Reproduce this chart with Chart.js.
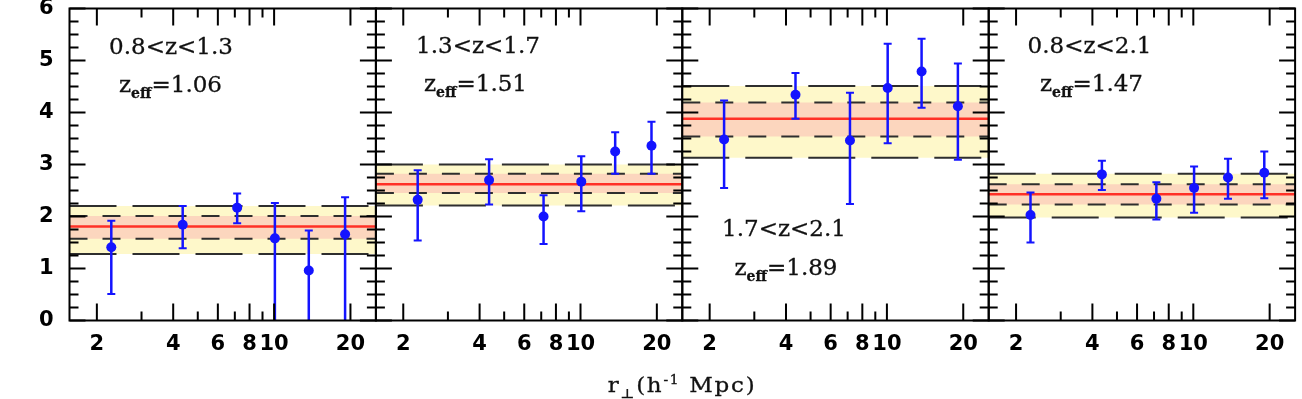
<!DOCTYPE html>
<html><head><meta charset="utf-8">
<script src="https://cdn.jsdelivr.net/npm/chart.js@4/dist/chart.umd.min.js"></script>
<style>
html,body{margin:0;padding:0;background:#fff;}
#wrap{position:relative;width:1302px;height:399px;overflow:hidden;background:#fff;}
canvas{position:absolute;left:0;top:0;}
.lab{position:absolute;font-family:"DejaVu Serif";font-size:23px;line-height:23px;color:#111;white-space:nowrap;transform:translate(-50%,-50%);z-index:5;-webkit-text-stroke:0.3px #111;}
.lab sub{font-size:14px;font-weight:bold;vertical-align:-6px;line-height:0;}
#xt{position:absolute;left:681.5px;top:385px;font-family:"DejaVu Serif";font-size:20px;line-height:20px;color:#111;white-space:nowrap;letter-spacing:1.5px;transform:translate(-50%,-50%) scaleX(1.15);z-index:5;-webkit-text-stroke:0.3px #111;}
#xt sub{font-size:13px;vertical-align:-6px;line-height:0;}
#xt sup{font-size:12px;vertical-align:8px;line-height:0;}
</style></head><body>
<div id="wrap">
<canvas id="c0" width="1302" height="399"></canvas>
<canvas id="c1" width="1302" height="399"></canvas>
<canvas id="c2" width="1302" height="399"></canvas>
<canvas id="c3" width="1302" height="399"></canvas>
<div class="lab" id="r0" style="left:171px;top:45.5px"></div>
<div class="lab" id="z0" style="left:170.5px;top:83.5px"></div>
<div class="lab" id="r1" style="left:478px;top:45px"></div>
<div class="lab" id="z1" style="left:475.5px;top:83px"></div>
<div class="lab" id="r2" style="left:784px;top:227.5px"></div>
<div class="lab" id="z2" style="left:786px;top:266.5px"></div>
<div class="lab" id="r3" style="left:1089.5px;top:45px"></div>
<div class="lab" id="z3" style="left:1091.5px;top:83px"></div>
<div id="xt">r<sub>⊥</sub>(h<sup>-1</sup> Mpc)</div>
</div>
<script>
// ---- axis ranges & ticks ----
const X_MIN = 1.56, X_MAX = 25.2;
const Y_MIN = 0, Y_MAX = 6;
const X_TICKS = [2, 3, 4, 5, 6, 7, 8, 9, 10, 20];
const X_LABELED = [2, 4, 6, 8, 10, 20];
const Y_TICKS = [0, 1, 2, 3, 4, 5, 6];
const Y_MINOR_STEP = 0.25;

// ---- categories / panel labels ----
const PANEL_RANGES = ['0.8<z<1.3', '1.3<z<1.7', '1.7<z<2.1', '0.8<z<2.1'];
const PANEL_ZEFF = ['1.06', '1.51', '1.89', '1.47'];

// ---- x positions of the bins (h^-1 Mpc) ----
const R_PERP = [2.28, 4.36, 7.15, 10.07, 13.7, 19.05];

// ---- panel 1: 0.8<z<1.3 ----
const VAL_1 = [1.41, 1.84, 2.17, 1.58, 0.96, 1.66];
const HI_1  = [1.92, 2.20, 2.44, 2.26, 1.73, 2.37];
const LO_1  = [0.51, 1.39, 1.87, 0.00, 0.00, 0.00];
const FIT_1 = [1.81, 1.57, 2.01, 1.28, 2.20]; // mean, 1σ lo, 1σ hi, 2σ lo, 2σ hi

// ---- panel 2: 1.3<z<1.7 ----
const VAL_2 = [2.32, 2.70, 2.00, 2.67, 3.25, 3.36];
const HI_2  = [2.89, 3.10, 2.41, 3.16, 3.62, 3.82];
const LO_2  = [1.54, 2.23, 1.47, 2.10, 2.82, 2.82];
const FIT_2 = [2.62, 2.45, 2.82, 2.21, 3.00];

// ---- panel 3: 1.7<z<2.1 ----
const VAL_3 = [3.48, 4.34, 3.46, 4.47, 4.79, 4.12];
const HI_3  = [4.23, 4.76, 4.38, 5.32, 5.42, 4.94];
const LO_3  = [2.55, 3.88, 2.24, 3.41, 4.09, 3.09];
const FIT_3 = [3.88, 3.54, 4.19, 3.13, 4.51];

// ---- panel 4: 0.8<z<2.1 ----
const VAL_4 = [2.03, 2.81, 2.34, 2.55, 2.75, 2.84];
const HI_4  = [2.46, 3.07, 2.66, 2.96, 3.11, 3.25];
const LO_4  = [1.50, 2.51, 1.94, 2.07, 2.34, 2.35];
const FIT_4 = [2.43, 2.23, 2.62, 1.98, 2.82];

const BLUE = '#1414ff', RED = '#ff3026', DASH = '#2e2e2e';
const PINK = 'rgb(252,214,190)', YELLOW = 'rgb(254,248,202)';

const decor = {
  id: 'decor',
  afterDatasetsDraw(chart) {
    const {ctx, chartArea: a, scales: {x, y}} = chart;
    const ds = chart.data.datasets[0];
    ctx.save();
    ctx.beginPath(); ctx.rect(a.left, a.top, a.right - a.left, a.bottom - a.top); ctx.clip();
    ctx.strokeStyle = BLUE; ctx.lineCap = 'butt';
    ds.data.forEach((p, i) => {
      const px = x.getPixelForValue(p.x);
      const yh = y.getPixelForValue(ds.errHi[i]);
      const yl = y.getPixelForValue(ds.errLo[i]);
      ctx.lineWidth = 2.5;
      ctx.beginPath(); ctx.moveTo(px, yh); ctx.lineTo(px, yl); ctx.stroke();
      ctx.lineWidth = 2;
      ctx.beginPath(); ctx.moveTo(px - 4, yh); ctx.lineTo(px + 4, yh); ctx.stroke();
      if (ds.errLo[i] > Y_MIN) { ctx.beginPath(); ctx.moveTo(px - 4, yl); ctx.lineTo(px + 4, yl); ctx.stroke(); }
    });
    ctx.restore();
  },
  afterDraw(chart) {
    const {ctx, chartArea: a, scales: {x, y}} = chart;
    ctx.save();
    ctx.strokeStyle = '#000'; ctx.lineWidth = 2; ctx.lineCap = 'butt';
    for (let v = Y_MIN; v <= Y_MAX + 1e-9; v += Y_MINOR_STEP) {
      const py = y.getPixelForValue(v);
      const len = Math.abs(v - Math.round(v)) < 1e-6 ? 16 : 9;
      ctx.beginPath();
      ctx.moveTo(a.left, py); ctx.lineTo(a.left + len, py);
      ctx.moveTo(a.right, py); ctx.lineTo(a.right - len, py);
      ctx.stroke();
    }
    X_TICKS.forEach(v => {
      const px = x.getPixelForValue(v);
      const len = X_LABELED.includes(v) ? 17 : 9;
      ctx.beginPath();
      ctx.moveTo(px, a.bottom); ctx.lineTo(px, a.bottom - len);
      ctx.moveTo(px, a.top); ctx.lineTo(px, a.top + len);
      ctx.stroke();
    });
    ctx.strokeRect(a.left, a.top, a.right - a.left, a.bottom - a.top);
    ctx.restore();
  }
};

const PANEL_W = 306.4, FIRST_L = 69.5, TOP = 8.5, BOTTOM = 320.5, Y_AXIS_W = 40;

function line(yv, opts) {
  return Object.assign({data: [{x: X_MIN, y: yv}, {x: X_MAX, y: yv}], pointRadius: 0, fill: false, tension: 0}, opts);
}

function makePanel(k, vals, lo, hi, fit) {
  const L = FIRST_L + k * PANEL_W, R = L + PANEL_W;
  const tickFont = {family: 'DejaVu Sans', weight: 'bold', size: 21};
  new Chart(document.getElementById('c' + k), {
    type: 'line',
    data: {datasets: [
      {data: R_PERP.map((xv, i) => ({x: xv, y: vals[i]})), showLine: false, pointRadius: 5,
       pointBackgroundColor: BLUE, pointBorderWidth: 0, borderColor: BLUE, errLo: lo, errHi: hi},
      line(fit[0], {borderColor: RED, borderWidth: 2.5}),
      line(fit[2], {borderColor: DASH, borderWidth: 2, borderDash: [18, 15], fill: '+1', backgroundColor: PINK}),
      line(fit[1], {borderColor: DASH, borderWidth: 2, borderDash: [18, 15]}),
      line(fit[4], {borderColor: DASH, borderWidth: 2, borderDash: [47, 16], fill: '+1', backgroundColor: YELLOW}),
      line(fit[3], {borderColor: DASH, borderWidth: 2, borderDash: [47, 16]})
    ]},
    options: {
      responsive: false, animation: false, events: [],
      layout: {padding: {left: k === 0 ? L - Y_AXIS_W : L, right: 1302 - R, top: TOP, bottom: 0}},
      plugins: {legend: {display: false}, tooltip: {enabled: false}, filler: {drawTime: 'beforeDatasetsDraw'}},
      scales: {
        x: {type: 'logarithmic', min: X_MIN, max: X_MAX,
            grid: {display: false, drawTicks: false, tickLength: 0}, border: {display: false},
            afterBuildTicks: s => { s.ticks = X_TICKS.map(v => ({value: v})); },
            afterFit: s => { s.height = 399 - BOTTOM; s.paddingLeft = 0; s.paddingRight = 0; },
            ticks: {autoSkip: false, maxRotation: 0, minRotation: 0, padding: 11, color: '#000', font: tickFont,
                    callback: v => X_LABELED.includes(v) ? String(v) : ''}},
        y: {display: k === 0, min: Y_MIN, max: Y_MAX,
            grid: {display: false, drawTicks: false, tickLength: 0}, border: {display: false},
            afterBuildTicks: s => { s.ticks = Y_TICKS.map(v => ({value: v})); },
            afterFit: s => { s.width = k === 0 ? Y_AXIS_W : 0; s.paddingTop = 0; s.paddingBottom = 0; },
            ticks: {padding: 16, color: '#000', font: tickFont, callback: v => String(v)}}
      }
    },
    plugins: [decor]
  });
  document.getElementById('r' + k).textContent = PANEL_RANGES[k];
  document.getElementById('z' + k).innerHTML = 'z<sub>eff</sub>=' + PANEL_ZEFF[k];
}

makePanel(0, VAL_1, LO_1, HI_1, FIT_1);
makePanel(1, VAL_2, LO_2, HI_2, FIT_2);
makePanel(2, VAL_3, LO_3, HI_3, FIT_3);
makePanel(3, VAL_4, LO_4, HI_4, FIT_4);
</script>
</body></html>
